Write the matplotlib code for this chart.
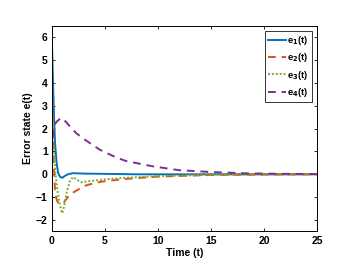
import numpy as np
import matplotlib.pyplot as plt

plt.rcParams['font.family'] = ['Liberation Sans', 'DejaVu Sans']
plt.rcParams['font.weight'] = 'bold'

# values
t1 = [0, 0.1, 0.2, 0.3, 0.45, 0.6, 0.8, 1.0, 1.2, 1.5, 2.0, 3.0, 5.0, 8.0, 25]
e1 = [6.0, 4.2, 2.6, 1.4, 0.5, 0.05, -0.12, -0.15, -0.08, 0.0, 0.05, 0.03, 0.02, 0.0, 0.0]

t2 = [0, 0.1, 0.2, 0.3, 0.45, 0.6, 0.8, 1.1, 1.5, 2.0, 3.0, 4.0, 5.0, 7.0, 10.0, 15.0, 20.0, 25]
e2 = [5.0, 2.5, 0.3, -0.7, -1.1, -1.25, -1.3, -1.25, -1.0, -0.8, -0.52, -0.38, -0.3, -0.2, -0.1, -0.03, -0.01, 0.0]

t3 = [0, 0.1, 0.2, 0.35, 0.5, 0.7, 0.9, 1.0, 1.15, 1.4, 1.7, 2.0, 2.4, 2.8, 3.5, 5.0, 7.0, 10.0, 15.0, 20.0, 25]
e3 = [3.0, 2.0, 1.0, 0.0, -0.6, -1.2, -1.6, -1.7, -1.4, -0.8, -0.3, -0.12, -0.25, -0.35, -0.3, -0.22, -0.15, -0.08, -0.02, 0.0, 0.0]

t4 = [0, 0.1, 0.25, 0.45, 0.7, 1.0, 1.5, 2.3, 3.0, 4.5, 6.0, 7.0, 9.5, 12.0, 15.0, 18.5, 22.0, 25]
e4 = [1.0, 1.7, 2.15, 2.3, 2.4, 2.46, 2.2, 1.8, 1.55, 1.08, 0.75, 0.58, 0.35, 0.18, 0.1, 0.04, 0.02, 0.01]

fig = plt.figure(figsize=(3.55, 2.67), dpi=100)
ax = fig.add_axes([0.146, 0.133, 0.747, 0.771])

ax.plot(t1, e1, color='#0072BD', lw=1.4, label='e$_\\mathbf{1}$(t)')
ax.plot(t2, e2, color='#D95319', lw=1.4, ls=(0, (4, 3)), label='e$_\\mathbf{2}$(t)')
ax.plot(t3, e3, color='#77AC30', lw=1.4, ls=(0, (1, 1)), label='e$_\\mathbf{3}$(t)')
ax.plot(t4, e4, color='#7E2F8E', lw=1.4, ls=(0, (4, 3)), label='e$_\\mathbf{4}$(t)')

ax.set_xlim(0, 25)
ax.set_ylim(-2.5, 6.5)
ax.set_xticks([0, 5, 10, 15, 20, 25])
ax.set_yticks([-2, -1, 0, 1, 2, 3, 4, 5, 6])
ax.tick_params(direction='in', top=True, right=True, labelsize=7.5, length=2.5, width=0.6, pad=3)
for s in ax.spines.values():
    s.set_linewidth(0.7)
ax.set_xlabel('Time (t)', fontsize=7.5, fontweight='bold', labelpad=2)
ax.set_ylabel('Error state e(t)', fontsize=7.5, fontweight='bold', labelpad=2)

leg = ax.legend(loc='upper right', fontsize=6.8, frameon=True, fancybox=False,
                edgecolor='black', handlelength=1.9, handletextpad=0.15,
                borderpad=0.35, labelspacing=0.45, borderaxespad=0.55)
leg.get_frame().set_linewidth(0.7)
for txt in leg.get_texts():
    txt.set_fontweight('bold')

fig.savefig('out.png', dpi=100)
